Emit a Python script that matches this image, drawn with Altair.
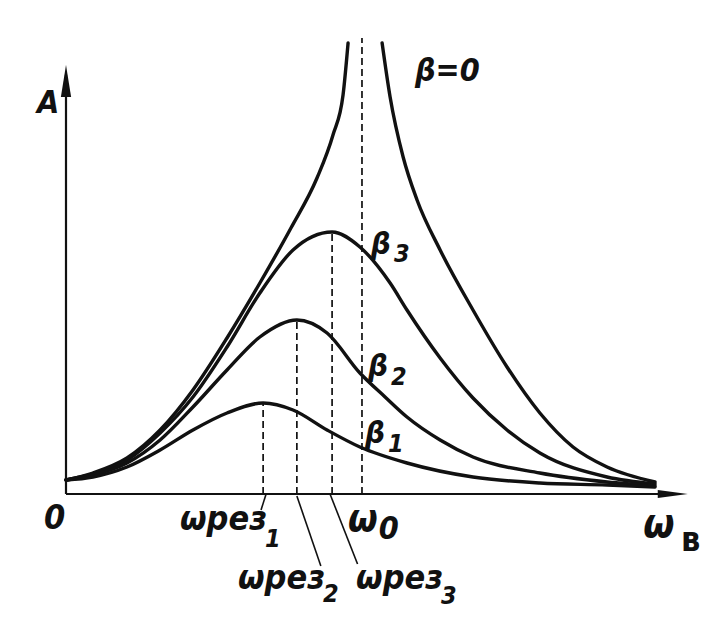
import altair as alt
import pandas as pd

# ---- values (omega in units of omega0, amplitude A in arbitrary units) ----
w_b0_left = [0, 0.091, 0.206, 0.318, 0.429, 0.544, 0.655, 0.760, 0.848, 0.902, 0.936, 0.953]
A_b0_left = [0.14, 0.21, 0.36, 0.64, 1.04, 1.56, 2.11, 2.66, 3.16, 3.59, 3.99, 4.51]
w_b0_right = [1.068, 1.095, 1.139, 1.186, 1.264, 1.375, 1.490, 1.601, 1.713, 1.828, 1.990]
A_b0_right = [4.51, 3.97, 3.37, 2.94, 2.44, 1.84, 1.27, 0.81, 0.47, 0.27, 0.12]
w_b3 = [0, 0.091, 0.206, 0.318, 0.429, 0.544, 0.655, 0.767, 0.899, 0.993, 1.095, 1.152, 1.264, 1.375, 1.490, 1.601, 1.828, 1.990]
A_b3 = [0.14, 0.20, 0.34, 0.61, 0.97, 1.47, 2.01, 2.44, 2.62, 2.47, 2.11, 1.84, 1.36, 0.96, 0.64, 0.41, 0.17, 0.10]
w_b2 = [0, 0.091, 0.206, 0.318, 0.429, 0.544, 0.655, 0.780, 0.882, 0.993, 1.078, 1.152, 1.264, 1.375, 1.601, 1.828, 1.990]
A_b2 = [0.14, 0.19, 0.31, 0.54, 0.87, 1.24, 1.57, 1.74, 1.61, 1.21, 0.97, 0.77, 0.54, 0.37, 0.21, 0.12, 0.08]
w_b1 = [0, 0.091, 0.206, 0.318, 0.429, 0.544, 0.666, 0.767, 0.882, 0.993, 1.152, 1.375, 1.601, 1.828, 1.990]
A_b1 = [0.14, 0.17, 0.27, 0.44, 0.64, 0.81, 0.91, 0.84, 0.64, 0.47, 0.31, 0.17, 0.11, 0.09, 0.07]

w_res = [0.666, 0.780, 0.899]     # resonance frequencies of beta1..beta3
A_res = [0.91, 1.74, 2.62]        # peak amplitudes
w0 = 1.0
A_top = 4.56                      # top of the omega0 dashed line
x_axis_end = 2.10
y_axis_end = 4.29

FONT = "DejaVu Sans Condensed, Liberation Sans Narrow, DejaVu Sans"
XD = [0, 2.142]
YD = [0, 4.64]

def xs():
    return alt.X("w:Q", scale=alt.Scale(domain=XD, nice=False, zero=False), axis=None)

def ys():
    return alt.Y("A:Q", scale=alt.Scale(domain=YD, nice=False, zero=False), axis=None)

rows = []
for name, ws, As in [("b0L", w_b0_left, A_b0_left), ("b0R", w_b0_right, A_b0_right),
                     ("b3", w_b3, A_b3), ("b2", w_b2, A_b2), ("b1", w_b1, A_b1)]:
    for w, a in zip(ws, As):
        rows.append({"series": name, "w": w, "A": a})
curves_df = pd.DataFrame(rows)

curves = alt.Chart(curves_df).mark_line(
    color="#111", strokeWidth=3.4, interpolate="monotone", strokeCap="round"
).encode(x=xs(), y=ys(), detail="series:N")

# dashed verticals
drows = []
for i, (w, a) in enumerate(zip(w_res + [w0], A_res + [A_top])):
    drows.append({"id": i, "w": w, "A": 0.0})
    drows.append({"id": i, "w": w, "A": a})
dashed = alt.Chart(pd.DataFrame(drows)).mark_line(
    color="#111", strokeWidth=1.7, strokeDash=[7, 4]
).encode(x=xs(), y=ys(), detail="id:N")

# axes
arows = [
    {"id": "x", "w": 0.0, "A": 0.0}, {"id": "x", "w": x_axis_end - 0.05, "A": 0.0},
    {"id": "y", "w": 0.0, "A": 0.0}, {"id": "y", "w": 0.0, "A": y_axis_end - 0.1},
]
axes = alt.Chart(pd.DataFrame(arows)).mark_line(color="#111", strokeWidth=2.2).encode(
    x=xs(), y=ys(), detail="id:N")

head_y = alt.Chart(pd.DataFrame([{"w": 0.0, "A": y_axis_end - 0.16}])).mark_point(
    shape="M0,-1L0.32,1L-0.32,1Z", size=1024, filled=True, color="#111", opacity=1
).encode(x=xs(), y=ys())
head_x = alt.Chart(pd.DataFrame([{"w": x_axis_end - 0.05, "A": 0.0}])).mark_point(
    shape="M1,0L-1,-0.27L-1,0.27Z", size=900, filled=True, color="#111", opacity=1
).encode(x=xs(), y=ys())

# leader lines below the axis
lrows = [
    {"id": 1, "w": 0.676, "A": 0.0}, {"id": 1, "w": 0.659, "A": -0.16},
    {"id": 2, "w": 0.780, "A": -0.02}, {"id": 2, "w": 0.861, "A": -0.72},
    {"id": 3, "w": 0.892, "A": 0.0}, {"id": 3, "w": 0.985, "A": -0.70},
]
leaders = alt.Chart(pd.DataFrame(lrows)).mark_line(color="#111", strokeWidth=1.6).encode(
    x=xs(), y=ys(), detail="id:N")

# labels
labels = [
    {"t": "A", "w": -0.098, "A": 3.81, "s": 32},
    {"t": "0", "w": -0.074, "A": -0.35, "s": 34},
    {"t": "ω", "w": 0.953, "A": -0.37, "s": 38},
    {"t": "0", "w": 1.057, "A": -0.45, "s": 32},
    {"t": "ωрез", "w": 0.385, "A": -0.36, "s": 34},
    {"t": "1", "w": 0.672, "A": -0.53, "s": 25},
    {"t": "ωрез", "w": 0.581, "A": -0.95, "s": 34},
    {"t": "2", "w": 0.868, "A": -1.08, "s": 25},
    {"t": "ωрез", "w": 0.980, "A": -0.95, "s": 34},
    {"t": "3", "w": 1.267, "A": -1.10, "s": 25},
    {"t": "ω", "w": 1.950, "A": -0.43, "s": 40},
    {"t": "β=0", "w": 1.179, "A": 4.13, "s": 32},
    {"t": "β", "w": 1.030, "A": 2.40, "s": 31},
    {"t": "3", "w": 1.108, "A": 2.32, "s": 25},
    {"t": "β", "w": 1.020, "A": 1.18, "s": 31},
    {"t": "2", "w": 1.098, "A": 1.09, "s": 25},
    {"t": "β", "w": 1.010, "A": 0.51, "s": 31},
    {"t": "1", "w": 1.088, "A": 0.42, "s": 25},
]
text = alt.Chart(pd.DataFrame(labels)).mark_text(
    align="left", baseline="alphabetic", font=FONT, fontStyle="italic", fontWeight="bold", color="#111"
).encode(x=xs(), y=ys(), text="t:N", size=alt.Size("s:Q", scale=None, legend=None))

text_v = alt.Chart(pd.DataFrame([{"t": "в", "w": 2.078, "A": -0.57, "s": 34}])).mark_text(
    align="left", baseline="alphabetic", font=FONT, fontWeight="bold", color="#111"
).encode(x=xs(), y=ys(), text="t:N", size=alt.Size("s:Q", scale=None, legend=None))

chart = alt.layer(dashed, leaders, axes, head_y, head_x, curves, text, text_v).properties(
    width=634, height=464,
    padding={"left": 58, "top": 22, "right": 8, "bottom": 124},
    autosize="none",
    background="white",
).configure_view(stroke=None)

chart.save("out.html", embed_options={"renderer": "svg", "actions": False})
